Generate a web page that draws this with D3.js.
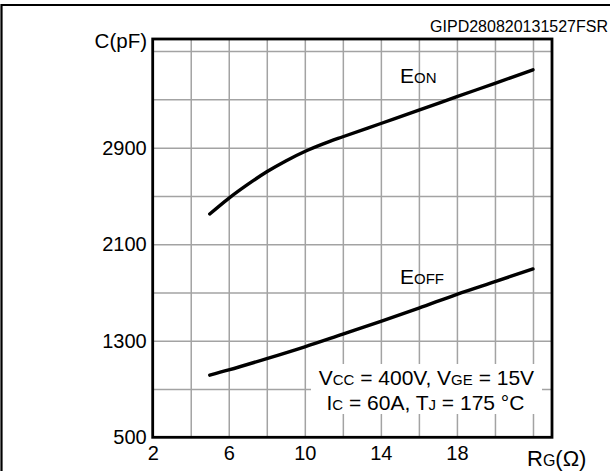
<!DOCTYPE html>
<html>
<head>
<meta charset="utf-8">
<script src="https://cdn.jsdelivr.net/npm/d3@7"></script>
<style>
  html, body { margin: 0; padding: 0; background: #fff; }
  svg { display: block; }
  text { font-family: "Liberation Sans", Arial, Helvetica, sans-serif; fill: #000; }
</style>
</head>
<body>
<svg id="chart" width="614" height="471"></svg>
<script>
// ---- data ----
const rg = [5, 6, 7, 8, 9, 10, 11, 12, 14, 16, 18, 20, 22];
const eon = [2350, 2480, 2595, 2700, 2790, 2868, 2933, 2990, 3100, 3210, 3322, 3433, 3545];
const rgOff = [5, 6, 8, 10, 12, 14, 16, 18, 20, 22];
const eoff = [1015, 1058, 1152, 1250, 1355, 1460, 1570, 1685, 1790, 1895];
const xTickLabels = [2, 6, 10, 14, 18];
const yTickLabels = [500, 1300, 2100, 2900];
const xGrid = [4, 6, 8, 10, 12, 14, 16, 18, 20, 22];
const yGrid = [900, 1300, 1700, 2100, 2500, 2900, 3300, 3700];

// ---- layout ----
const L = 152.7, R = 552, T = 39, B = 437.3;
const FONT = '"Liberation Sans", Arial, Helvetica, sans-serif';
const svg = d3.select("#chart");
const x = d3.scaleLinear().domain([2, 23]).range([L, R]);
const y = d3.scaleLinear().domain([500, 3800]).range([B, T]);

// outer border (top + left)
svg.append("path").attr("d", "M610,5 H1.5 V471")
  .attr("fill", "none").attr("stroke", "#000").attr("stroke-width", 2.2);

// grid
const gridColor = "#a3a3a3";
const gx = svg.append("g").attr("transform", `translate(0,${B})`)
  .call(d3.axisBottom(x).tickValues(xGrid).tickSize(-(B - T)).tickFormat(""));
gx.select(".domain").remove();
gx.selectAll("line").attr("stroke", gridColor).attr("stroke-width", 1.5);

const gy = svg.append("g").attr("transform", `translate(${L},0)`)
  .call(d3.axisLeft(y).tickValues(yGrid).tickSize(-(R - L)).tickFormat(""));
gy.select(".domain").remove();
gy.selectAll("line").attr("stroke", gridColor).attr("stroke-width", 1.5);

// white annotation box
svg.append("rect").attr("x", 311).attr("y", 364).attr("width", 231).attr("height", 50).attr("fill", "#fff");

// tick labels
const ax = svg.append("g").attr("transform", `translate(0,${B})`)
  .call(d3.axisBottom(x).tickValues(xTickLabels).tickSize(0).tickPadding(8.5).tickFormat(d3.format("d")));
ax.select(".domain").remove();
ax.selectAll("text").attr("font-size", 20).attr("font-family", FONT).attr("fill", "#000");

const ay = svg.append("g").attr("transform", `translate(${L},0)`)
  .call(d3.axisLeft(y).tickValues(yTickLabels).tickSize(0).tickPadding(6).tickFormat(d3.format("d")));
ay.select(".domain").remove();
ay.selectAll("text").attr("font-size", 20).attr("font-family", FONT).attr("fill", "#000");

// frame
svg.append("rect").attr("x", L).attr("y", T).attr("width", R - L).attr("height", B - T)
  .attr("fill", "none").attr("stroke", "#000").attr("stroke-width", 2.8);

// curves
const line = d3.line().x(d => x(d[0])).y(d => y(d[1])).curve(d3.curveCatmullRom.alpha(0.5));
svg.append("path").datum(rg.map((r, i) => [r, eon[i]])).attr("d", line)
  .attr("fill", "none").attr("stroke", "#000").attr("stroke-width", 3.4).attr("stroke-linecap", "round");
svg.append("path").datum(rgOff.map((r, i) => [r, eoff[i]])).attr("d", line)
  .attr("fill", "none").attr("stroke", "#000").attr("stroke-width", 3.4).attr("stroke-linecap", "round");

// helper for text with small-cap subscripts
function label(xp, yp, parts, anchor) {
  const t = svg.append("text").attr("x", xp).attr("y", yp).attr("text-anchor", anchor || "start");
  parts.forEach(p => t.append("tspan").attr("font-size", p[1]).text(p[0]));
  return t;
}

// series labels
label(400, 83, [["E", 21], ["ON", 15]]);
label(400, 284, [["E", 21], ["OFF", 15]]);

// axis titles
label(147, 48, [["C(pF)", 20.5]], "end");
label(527, 466, [["R", 22], ["G", 16], ["(Ω)", 22]]);

// code
label(608, 31.5, [["GIPD280820131527FSR", 16]], "end");

// conditions
label(426.4, 385, [["V", 21], ["CC", 15], [" = 400V, V", 21], ["GE", 15], [" = 15V", 21]], "middle");
label(425.4, 410, [["I", 21], ["C", 15], [" = 60A, T", 21], ["J", 15], [" = 175 °C", 21]], "middle");
</script>
</body>
</html>
